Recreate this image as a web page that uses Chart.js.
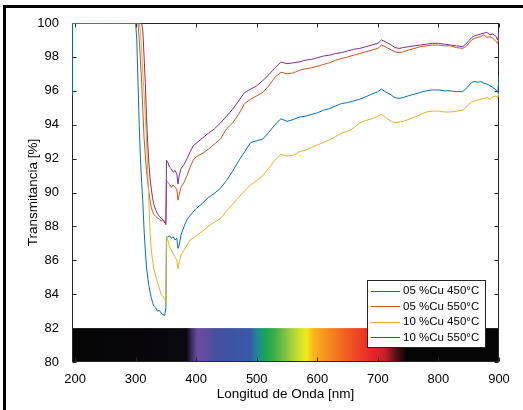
<!DOCTYPE html>
<html><head><meta charset="utf-8">
<script src="https://cdn.jsdelivr.net/npm/chart.js@4.4.1/dist/chart.umd.min.js"></script>
<style>html,body{margin:0;padding:0;background:#fff;}canvas{display:block;}</style>
</head><body>
<canvas id="c" width="523" height="410"></canvas>
<script>
const wavelength = [
  195,196,250,298,300,302,304,306,308,310,
  312,314,316,318,320,322,324,326,328,330,
  333,336,339,342,345,348,350,351,353,356,
  359,362,365,368,370,372,375,380,385,390,
  395,400,410,420,430,440,450,460,470,480,
  490,500,510,520,530,540,550,560,570,580,
  590,600,610,620,630,640,650,660,670,680,
  690,700,706,712,720,728,735,742,750,760,
  770,780,790,800,810,820,830,840,845,850,
  855,860,865,870,875,880,885,890,895,898,
  900];
const cu05_450 = [
  95.8,100,100,100,100,99.0,96.5,94.0,92.0,90.6,
  89.4,87.8,86.6,85.6,85.0,84.5,84.1,83.8,83.5,83.3,
  83.2,83.0,83.05,82.9,82.8,82.75,83.2,87.4,87.35,87.45,
  87.3,87.4,87.2,87.3,86.7,86.9,87.5,88.0,88.4,88.65,
  88.85,89.05,89.35,89.7,89.95,90.25,90.7,91.25,91.85,92.4,
  92.95,93.05,93.15,93.55,94.0,94.35,94.2,94.3,94.45,94.5,
  94.6,94.7,94.85,94.95,95.1,95.25,95.3,95.4,95.5,95.65,
  95.8,95.95,96.1,95.95,95.8,95.6,95.55,95.6,95.7,95.8,
  95.9,96.0,96.05,96.05,96.0,96.0,95.95,95.95,96.1,96.3,
  96.5,96.55,96.5,96.55,96.45,96.4,96.3,96.2,96.05,95.9,
  96.8];
const cu05_550 = [
  100,100,100,100,100,100,100,99.0,97.8,96.5,
  94.8,93.2,92.2,91.3,90.6,90.0,89.5,89.1,88.9,88.7,
  88.6,88.5,88.45,88.3,88.4,88.2,88.3,90.7,90.6,90.5,
  90.3,90.45,90.3,90.2,89.55,89.9,90.3,90.6,91.0,91.5,
  91.9,92.1,92.3,92.55,92.85,93.15,93.75,94.1,94.6,95.25,
  95.5,95.7,95.9,96.3,96.8,97.1,97.0,97.05,97.2,97.3,
  97.35,97.45,97.55,97.65,97.8,97.9,98.0,98.1,98.2,98.3,
  98.4,98.5,98.7,98.6,98.45,98.3,98.25,98.3,98.4,98.5,
  98.6,98.65,98.7,98.7,98.65,98.65,98.55,98.5,98.6,98.8,
  99.0,99.1,99.15,99.2,99.3,99.15,99.2,99.1,98.9,98.8,
  99.3];
const cu10_450 = [
  100,100,100,100,100,100,100,100,99.5,98.3,
  97.0,95.8,94.5,93.0,91.3,89.5,87.5,86.6,86.0,85.5,
  85.1,84.7,84.4,84.0,83.9,83.7,83.55,87.4,87.2,86.8,
  86.6,86.4,86.2,86.0,85.5,85.9,86.3,86.6,86.9,87.2,
  87.3,87.45,87.7,88.0,88.25,88.45,88.9,89.3,89.7,90.1,
  90.45,90.7,91.0,91.45,91.9,92.25,92.15,92.2,92.4,92.5,
  92.65,92.8,92.95,93.1,93.3,93.5,93.6,93.8,94.1,94.25,
  94.35,94.5,94.6,94.45,94.25,94.1,94.15,94.2,94.3,94.45,
  94.6,94.75,94.8,94.8,94.75,94.75,94.8,94.85,95.0,95.2,
  95.35,95.4,95.45,95.5,95.55,95.6,95.5,95.65,95.7,95.6,
  95.9];
const cu10_550 = [
  100,100,100,100,100,100,100,100,100,100,
  99.5,98.0,96.5,94.5,92.9,91.7,90.8,90.2,89.7,89.3,
  89.0,88.75,88.6,88.5,88.4,88.3,88.1,91.9,91.8,91.5,
  91.4,91.2,91.3,91.1,90.5,91.0,91.4,91.65,92.0,92.4,
  92.75,92.9,93.2,93.5,93.75,94.1,94.5,94.9,95.4,95.9,
  96.1,96.3,96.6,96.95,97.35,97.7,97.6,97.65,97.7,97.8,
  97.85,97.95,98.05,98.1,98.2,98.25,98.35,98.45,98.5,98.6,
  98.7,98.8,99.0,98.9,98.75,98.55,98.5,98.55,98.6,98.65,
  98.7,98.75,98.8,98.8,98.75,98.7,98.65,98.6,98.75,98.95,
  99.15,99.25,99.3,99.35,99.4,99.45,99.3,99.35,99.2,99.0,
  99.5];
const seriesLabels = ['05 %Cu 450°C','05 %Cu 550°C','10 %Cu 450°C','10 %Cu 550°C'];
const seriesColors = ['#0072BD','#D95319','#EDB120','#7E2F8E'];
const xTickValues = [200,300,400,500,600,700,800,900];
const yTickValues = [80,82,84,86,88,90,92,94,96,98,100];
const spectrumTop = 82;
const spectrumNm = [195,384,392,402,412,432,460,490,500,515,530,550,570,582,594,612,640,665,690,712,728,748,900];
const spectrumColor = ['#050505','#0a0710','#3d2a63','#6a4c9e','#634da0','#45509f','#3b55a4','#3a5aa8','#1b8a96','#1ba54e','#3fae49','#8cc63f','#cfe02a','#f5e71b','#f8b41f','#f7941d','#f26a22','#ee4524','#e8262a','#c3202a','#5a1414','#050505','#050505'];

const FONT = 'Liberation Sans, Arial, Helvetica, sans-serif';
const allSeries = [cu05_450, cu05_550, cu10_450, cu10_550];

const bgFrame = {
  id:'bgFrame',
  beforeDraw(chart){ const c=chart.ctx; c.save(); c.fillStyle='#fff'; c.fillRect(0,0,chart.width,chart.height); c.restore(); },
  afterDraw(chart){ const c=chart.ctx; c.save(); c.fillStyle='#000'; c.fillRect(3,5,chart.width-3,3); c.fillRect(3,5,3,chart.height-5); c.restore(); }
};
const spectrumBox = {
  id:'spectrumBox',
  beforeDatasetsDraw(chart){
    const {ctx, chartArea:a, scales:{x,y}} = chart;
    const x0 = x.getPixelForValue(x.min), x1 = x.getPixelForValue(x.max);
    const yT = y.getPixelForValue(spectrumTop), yB = y.getPixelForValue(y.min);
    const g = ctx.createLinearGradient(x0,0,x1,0);
    spectrumNm.forEach((nm,i)=> g.addColorStop((nm-x.min)/(x.max-x.min), spectrumColor[i]));
    ctx.save(); ctx.fillStyle=g; ctx.fillRect(x0,yT,x1-x0,yB-yT);
    ctx.strokeStyle='#262626'; ctx.lineWidth=1;
    const L=Math.round(a.left)+0.5, R=Math.round(a.right)-0.5, T=Math.round(a.top)+0.5, B=Math.round(a.bottom)-0.5;
    ctx.strokeRect(L,T,R-L,B-T);
    ctx.beginPath();
    xTickValues.forEach(v=>{ const p=Math.round(x.getPixelForValue(v))+0.5; ctx.moveTo(p,B); ctx.lineTo(p,B-4); ctx.moveTo(p,T); ctx.lineTo(p,T+4); });
    yTickValues.forEach(v=>{ const p=Math.round(y.getPixelForValue(v))+0.5; ctx.moveTo(L,p); ctx.lineTo(L+4,p); ctx.moveTo(R,p); ctx.lineTo(R-4,p); });
    ctx.stroke(); ctx.restore();
  }
};
const insetLegend = {
  id:'insetLegend',
  afterDraw(chart){
    const {ctx, chartArea:a} = chart;
    const bw=119, bh=68, bx=Math.round(a.right)-13-bw, by=Math.round(a.bottom)-14-bh;
    ctx.save();
    ctx.fillStyle='#fff'; ctx.fillRect(bx,by,bw,bh);
    ctx.strokeStyle='#262626'; ctx.lineWidth=1; ctx.strokeRect(bx+0.5,by+0.5,bw-1,bh-1);
    ctx.font='11.5px '+FONT; ctx.textBaseline='middle'; ctx.fillStyle='#000';
    chart.data.datasets.forEach((ds,i)=>{
      const cy = by + 10.5 + i*15.5;
      ctx.strokeStyle=ds.borderColor; ctx.beginPath(); ctx.moveTo(bx+4,Math.round(cy)+0.5); ctx.lineTo(bx+33,Math.round(cy)+0.5); ctx.stroke();
      ctx.fillText(ds.label, bx+36, cy+0.5);
    });
    ctx.restore();
  }
};

new Chart(document.getElementById('c'), {
  type:'line',
  data:{ datasets: allSeries.map((s,i)=>({
    label: seriesLabels[i],
    data: wavelength.map((w,j)=>({x:w,y:s[j]})),
    borderColor: seriesColors[i], backgroundColor: seriesColors[i],
    borderWidth:1, pointRadius:0, tension:0, fill:false, order: allSeries.length-i
  }))},
  options:{
    responsive:false, animation:false, devicePixelRatio:1,
    layout:{padding:{top:23,right:24,left:0,bottom:0}},
    plugins:{legend:{display:false}, tooltip:{enabled:false}},
    scales:{
      x:{type:'linear', min:195, max:900,
        afterBuildTicks:s=>{s.ticks=xTickValues.map(v=>({value:v}));},
        afterFit:s=>{s.height=48;},
        grid:{display:false}, border:{display:false},
        ticks:{font:{family:FONT,size:13}, color:'#000', padding:2, maxRotation:0, autoSkip:false},
        title:{display:true, text:'Longitud de Onda [nm]', font:{family:FONT,size:13.5}, color:'#000', padding:{top:0,bottom:8}}
      },
      y:{type:'linear', min:80, max:100,
        afterBuildTicks:s=>{s.ticks=yTickValues.map(v=>({value:v}));},
        afterFit:s=>{s.width=72;},
        grid:{display:false}, border:{display:false},
        ticks:{font:{family:FONT,size:13}, color:'#000', padding:5, autoSkip:false},
        title:{display:true, text:'Transmitancia [%]', font:{family:FONT,size:13.5}, color:'#000', padding:{top:25,bottom:0}}
      }
    }
  },
  plugins:[bgFrame, spectrumBox, insetLegend]
});
</script></body></html>
